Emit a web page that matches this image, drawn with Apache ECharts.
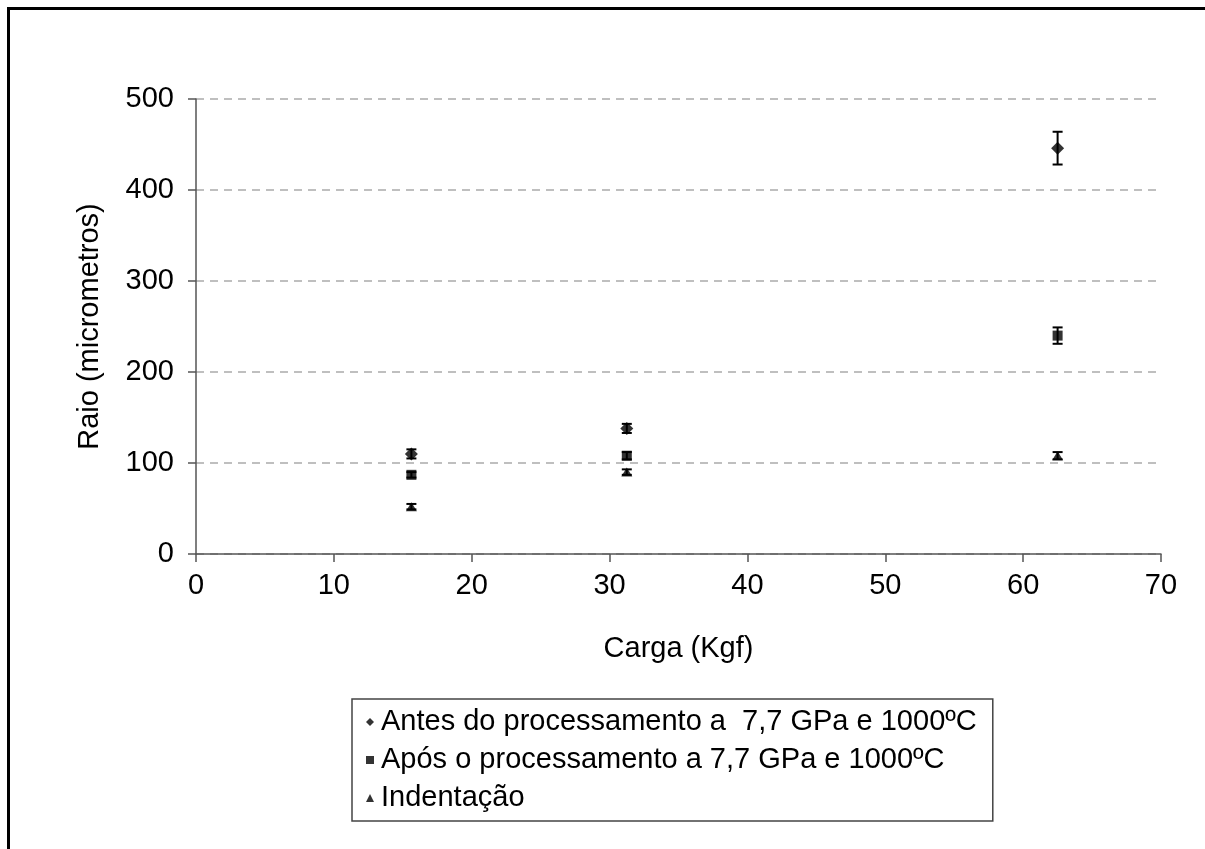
<!DOCTYPE html>
<html>
<head>
<meta charset="utf-8">
<script src="https://cdn.jsdelivr.net/npm/echarts@6/dist/echarts.min.js"></script>
<style>
  html, body { margin: 0; padding: 0; background: #fff; }
  #chart { width: 1205px; height: 849px; }
</style>
</head>
<body>
<div id="chart"></div>
<script>
// carga (Kgf)
const cargas = [15.625, 31.25, 62.5]

const antesMedia = [110, 138, 446]
const antesErro = [5, 5, 18]
const aposMedia = [87, 108, 240]
const aposErro = [3, 4, 9]
const indentMedia = [52, 90, 108]
const indentErro = [3, 3, 4]

const nomes = [
  'Antes do processamento a  7,7 GPa e 1000ºC',
  'Após o processamento a 7,7 GPa e 1000ºC',
  'Indentação',
]

const fonte = 'Liberation Sans, Arial, sans-serif'
const chart = echarts.init(document.getElementById('chart'))

function pontos(media) {
  return cargas.map((c, i) => [c, media[i]])
}

function barras(media, erro) {
  return cargas.map((c, i) => [c, media[i] - erro[i], media[i] + erro[i]])
}

// barra de erro vertical com traços nas pontas
function renderErro(params, api) {
  const x = api.value(0)
  const lo = api.coord([x, api.value(1)])
  const hi = api.coord([x, api.value(2)])
  const w = 5
  const estilo = { stroke: '#000', lineWidth: 2 }
  return {
    type: 'group',
    children: [
      { type: 'line', shape: { x1: lo[0], y1: lo[1], x2: hi[0], y2: hi[1] }, style: estilo },
      { type: 'line', shape: { x1: lo[0] - w, y1: lo[1], x2: lo[0] + w, y2: lo[1] }, style: estilo },
      { type: 'line', shape: { x1: hi[0] - w, y1: hi[1], x2: hi[0] + w, y2: hi[1] }, style: estilo },
    ],
  }
}

function serieErro(media, erro) {
  return {
    type: 'custom',
    renderItem: renderErro,
    data: barras(media, erro),
    silent: true,
    z: 1,
  }
}

chart.setOption({
  animation: false,
  backgroundColor: '#fff',
  graphic: [
    {
      type: 'rect',
      shape: { x: 8.5, y: 8.5, width: 1205, height: 900 },
      style: { fill: 'none', stroke: '#000', lineWidth: 3 },
      silent: true,
    },
  ],
  grid: { left: 196, right: 44, top: 99, bottom: 295 },
  legend: {
    orient: 'vertical',
    left: 352,
    top: 699,
    data: [
      { name: nomes[0], icon: 'diamond' },
      { name: nomes[1], icon: 'rect' },
      { name: nomes[2], icon: 'triangle' },
    ],
    itemWidth: 8,
    itemHeight: 8,
    itemGap: 6,
    padding: [7, 16, 7, 14],
    borderColor: '#444',
    borderWidth: 1.5,
    borderRadius: 0,
    textStyle: { color: '#000', fontSize: 29, fontFamily: fonte, lineHeight: 32, padding: [0, 0, 0, 2] },
  },
  xAxis: {
    type: 'value',
    min: 0,
    max: 70,
    interval: 10,
    name: 'Carga (Kgf)',
    nameLocation: 'middle',
    nameGap: 80,
    nameTextStyle: { color: '#000', fontSize: 29, fontFamily: fonte },
    axisLine: { show: true, lineStyle: { color: '#555', width: 1.5 } },
    axisTick: { show: true, length: 8, lineStyle: { color: '#555', width: 1.5 } },
    axisLabel: { color: '#000', fontSize: 29, fontFamily: fonte, margin: 17 },
    splitLine: { show: false },
  },
  yAxis: {
    type: 'value',
    min: 0,
    max: 500,
    interval: 100,
    name: 'Raio (micrometros)',
    nameLocation: 'middle',
    nameGap: 92,
    nameTextStyle: { color: '#000', fontSize: 29, fontFamily: fonte },
    axisLine: { show: true, lineStyle: { color: '#555', width: 1.5 } },
    axisTick: { show: true, length: 8, lineStyle: { color: '#555', width: 1.5 } },
    axisLabel: { color: '#000', fontSize: 29, fontFamily: fonte, margin: 22 },
    splitLine: { show: true, lineStyle: { color: '#aaa', width: 1.5, type: [8, 6] } },
  },
  series: [
    serieErro(antesMedia, antesErro),
    serieErro(aposMedia, aposErro),
    serieErro(indentMedia, indentErro),
    {
      name: nomes[0],
      type: 'scatter',
      symbol: 'diamond',
      symbolSize: [13, 13],
      itemStyle: { color: '#000' },
      data: pontos(antesMedia),
      z: 3,
    },
    {
      name: nomes[1],
      type: 'scatter',
      symbol: 'rect',
      symbolSize: [10, 10],
      itemStyle: { color: '#000' },
      data: pontos(aposMedia),
      z: 3,
    },
    {
      name: nomes[2],
      type: 'scatter',
      symbol: 'triangle',
      symbolSize: [11, 9],
      itemStyle: { color: '#000' },
      data: pontos(indentMedia),
      z: 3,
    },
  ],
})
</script>
</body>
</html>
